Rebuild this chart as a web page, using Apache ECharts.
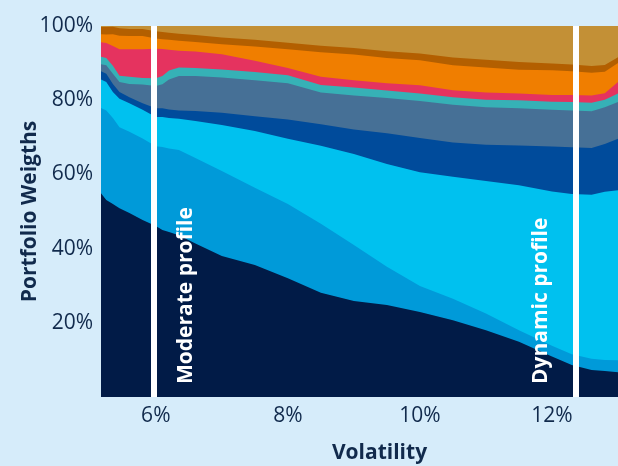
<!DOCTYPE html>
<html>
<head>
<meta charset="utf-8">
<script src="https://cdn.jsdelivr.net/npm/echarts@6/dist/echarts.min.js"></script>
<style>
  html, body { margin: 0; padding: 0; background: #d6ecfa; }
  #chart { width: 618px; height: 466px; }
</style>
</head>
<body>
<div id="chart"></div>
<script>
// Efficient-frontier portfolio weights (%) by volatility (%)
const volatility = [5.17, 5.25, 5.35, 5.45, 5.6, 5.8, 6.0, 6.1, 6.2, 6.35, 6.6, 7.0, 7.5, 8.0, 8.5, 9.0, 9.5, 10.0, 10.5, 11.0, 11.5, 12.0, 12.3, 12.6, 12.8, 13.0];

const assetNavy     = [54.9, 53.1, 52.0, 50.9, 49.6, 47.7, 46.1, 45.0, 44.5, 43.6, 41.4, 38.0, 35.6, 32.0, 28.1, 25.9, 24.8, 22.9, 20.7, 18.0, 14.9, 10.9, 8.6, 7.3, 7.0, 6.7];
const assetBlue     = [23.0, 24.1, 23.2, 21.8, 21.9, 22.0, 21.5, 22.4, 22.5, 23.0, 23.0, 22.9, 20.8, 20.0, 18.6, 15.1, 10.3, 7.0, 5.8, 4.5, 3.1, 2.9, 2.9, 3.0, 3.0, 3.2];
const assetCyan     = [7.7, 7.7, 7.0, 7.7, 7.7, 7.7, 7.9, 8.1, 8.2, 8.4, 10.0, 12.4, 15.3, 17.6, 21.0, 24.5, 27.7, 30.7, 32.9, 35.7, 39.1, 41.6, 43.2, 44.2, 45.3, 45.8];
const assetDarkBlue = [2.2, 2.2, 2.2, 1.8, 1.6, 1.8, 2.3, 2.3, 2.3, 2.2, 2.7, 3.3, 4.0, 5.2, 5.8, 6.6, 8.3, 9.2, 9.2, 9.8, 10.7, 12.1, 12.6, 12.6, 12.9, 13.9];
const assetSlate    = [1.9, 2.3, 2.7, 2.7, 3.6, 5.0, 6.0, 6.5, 8.1, 9.3, 9.4, 9.5, 9.7, 9.8, 8.6, 9.2, 9.5, 10.0, 10.2, 10.1, 10.0, 9.9, 9.9, 9.9, 9.9, 9.9];
const assetTeal     = [2.0, 2.0, 2.2, 1.7, 1.9, 1.8, 2.1, 2.2, 2.4, 2.3, 2.2, 2.2, 2.2, 2.1, 2.0, 2.1, 2.0, 2.0, 2.0, 2.0, 2.2, 2.2, 2.3, 2.3, 2.0, 2.3];
const assetPink     = [3.9, 4.0, 5.3, 7.1, 7.4, 7.7, 8.0, 7.3, 5.6, 4.5, 4.4, 4.1, 3.0, 2.0, 2.2, 2.0, 2.0, 2.2, 1.9, 2.0, 1.8, 1.8, 1.9, 2.0, 1.8, 3.1];
const assetOrange   = [2.2, 2.3, 3.2, 3.7, 3.6, 3.6, 2.7, 2.6, 2.7, 2.7, 2.6, 2.7, 3.9, 5.0, 6.6, 6.9, 6.8, 6.8, 6.7, 6.7, 6.4, 6.7, 6.4, 6.1, 5.8, 5.1];
const assetBrown    = [1.9, 2.0, 2.0, 2.0, 1.9, 1.9, 2.0, 2.0, 1.9, 1.9, 1.9, 1.8, 1.8, 1.8, 1.8, 1.8, 1.8, 1.8, 2.1, 2.1, 2.1, 1.8, 1.8, 1.8, 1.8, 1.6];
const assetGold     = [0.3, 0.3, 0.2, 0.6, 0.8, 0.8, 1.4, 1.6, 1.8, 2.1, 2.4, 3.1, 3.7, 4.5, 5.3, 5.9, 6.8, 7.4, 8.5, 9.1, 9.7, 10.1, 10.4, 10.8, 10.5, 8.4];

const xTicks = [6, 8, 10, 12];
const yTicks = [20, 40, 60, 80, 100];

const profileNames = ['Moderate profile', 'Dynamic profile'];
const profileVols  = [5.97, 12.36];

// Bottom-to-top order of the stacked layers
const layers = [
  { name: 'Navy',      data: assetNavy,     color: '#011b47' },
  { name: 'Blue',      data: assetBlue,     color: '#009ad9' },
  { name: 'Cyan',      data: assetCyan,     color: '#00c1ef' },
  { name: 'Dark blue', data: assetDarkBlue, color: '#004b9b' },
  { name: 'Slate',     data: assetSlate,    color: '#467096' },
  { name: 'Teal',      data: assetTeal,     color: '#36b1b6' },
  { name: 'Pink',      data: assetPink,     color: '#e5335f' },
  { name: 'Orange',    data: assetOrange,   color: '#f07e00' },
  { name: 'Brown',     data: assetBrown,    color: '#b35f00' },
  { name: 'Gold',      data: assetGold,     color: '#c39036' }
];

const textColor = '#112a4c';
const font = '"Open Sans", "Noto Sans", sans-serif';

// Running totals: each layer's upper edge
const running = volatility.map(() => 0);
const tops = layers.map(layer => layer.data.map((w, i) => (running[i] += w)));

// Draw the tallest cumulative area first so lower layers paint over it
const series = layers.map((layer, idx) => ({
  name: layer.name,
  type: 'line',
  symbol: 'none',
  showSymbol: false,
  silent: true,
  z: 2 + (layers.length - idx) * 0.01,
  lineStyle: { width: 0 },
  areaStyle: { color: layer.color, opacity: 1, origin: 'start' },
  itemStyle: { color: layer.color },
  data: volatility.map((v, i) => [v, tops[idx][i]])
})).reverse();

series.push({
  name: 'Profiles',
  type: 'line',
  data: [],
  silent: true,
  z: 5,
  markLine: {
    silent: true,
    symbol: ['none', 'none'],
    label: { show: false },
    lineStyle: { color: '#ffffff', width: 6, type: 'solid', opacity: 1 },
    data: profileVols.map(v => ({ xAxis: v }))
  }
});

const chart = echarts.init(document.getElementById('chart'), null, { renderer: 'canvas' });

chart.setOption({
  backgroundColor: '#d6ecfa',
  animation: false,
  textStyle: { fontFamily: font },
  grid: { left: 101, right: 0, top: 26, bottom: 69, containLabel: false, outerBoundsMode: 'none' },
  xAxis: {
    type: 'value',
    min: volatility[0],
    max: volatility[volatility.length - 1],
    name: 'Volatility',
    nameLocation: 'middle',
    nameGap: 46,
    nameMoveOverlap: false,
    nameTextStyle: { color: textColor, fontSize: 21, fontWeight: 'bold', fontFamily: font, padding: [0, 0, 0, 40] },
    axisLine: { show: false },
    axisTick: { show: false },
    splitLine: { show: false },
    axisLabel: {
      customValues: xTicks,
      formatter: v => v + '%',
      color: textColor,
      fontSize: 21,
      fontFamily: font,
      margin: 9
    }
  },
  yAxis: {
    type: 'value',
    min: 0,
    max: 100,
    interval: 20,
    name: 'Portfolio Weigths',
    nameLocation: 'middle',
    nameRotate: 90,
    nameGap: 60,
    nameMoveOverlap: false,
    nameTextStyle: { color: textColor, fontSize: 21, fontWeight: 'bold', fontFamily: font },
    axisLine: { show: false },
    axisTick: { show: false },
    splitLine: { show: false },
    axisLabel: {
      customValues: yTicks,
      formatter: v => v + '%',
      color: textColor,
      fontSize: 21,
      fontFamily: font,
      margin: 8
    }
  },
  series: series
});

// Rotated profile captions beside the white reference lines
const baseY = chart.convertToPixel({ yAxisIndex: 0 }, 0);
chart.setOption({
  graphic: profileNames.map((name, i) => {
    const px = chart.convertToPixel({ xAxisIndex: 0 }, profileVols[i]);
    const offset = i === 0 ? 32 : -35;
    return {
      type: 'text',
      x: px + offset,
      y: baseY - 13,
      rotation: Math.PI / 2,
      z: 100,
      silent: true,
      style: {
        text: name,
        fill: '#ffffff',
        font: 'bold 21px ' + font,
        textAlign: 'left',
        textVerticalAlign: 'middle',
        align: 'left',
        verticalAlign: 'middle'
      }
    };
  })
});
</script>
</body>
</html>
